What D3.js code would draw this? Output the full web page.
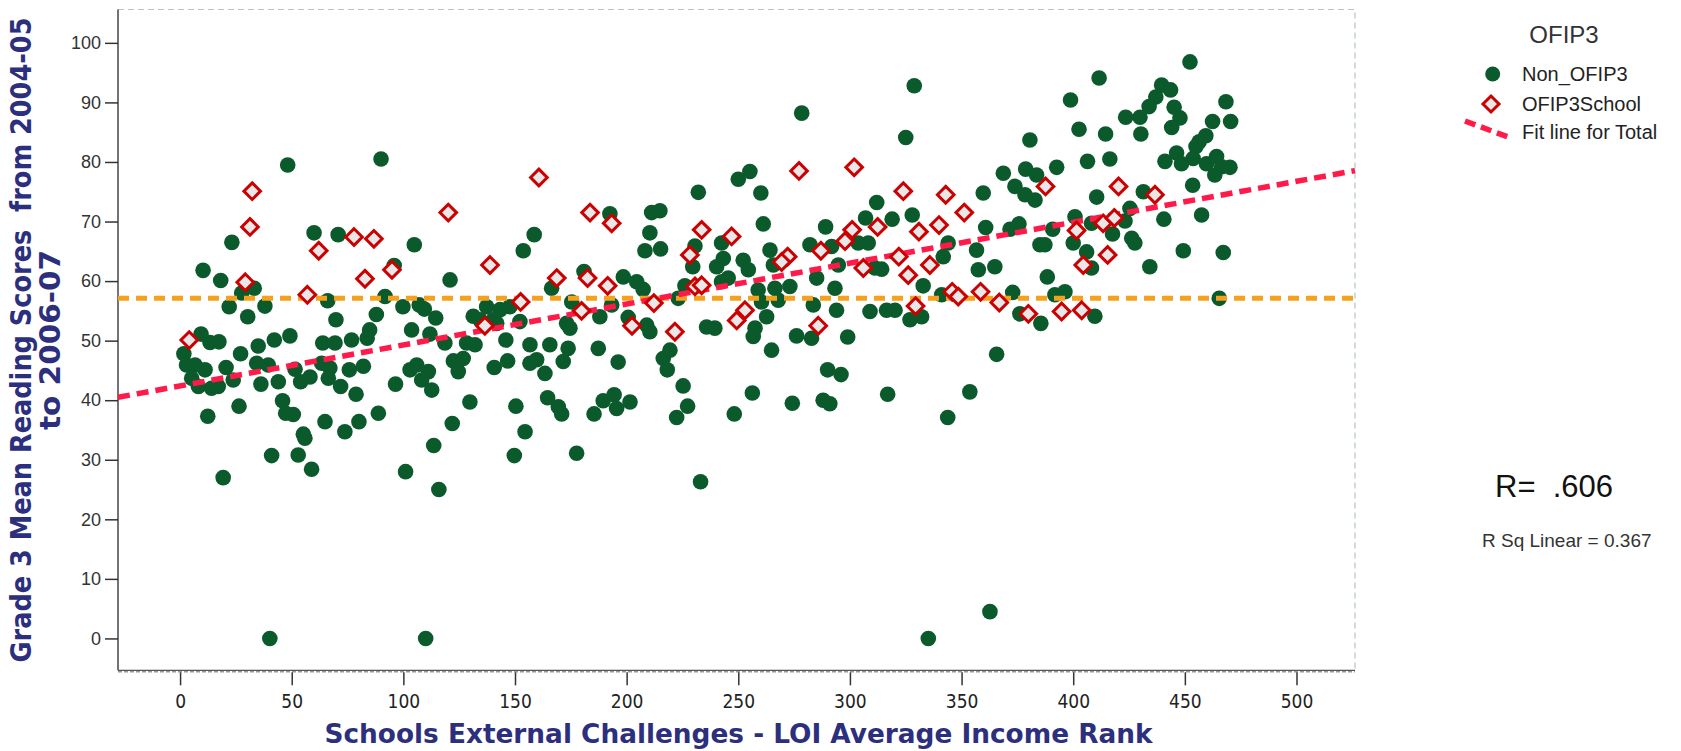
<!DOCTYPE html>
<html>
<head>
<meta charset="utf-8">
<script src="https://cdn.jsdelivr.net/npm/d3@7"></script>
<style>
  html, body { margin: 0; padding: 0; background: #ffffff; }
  svg { display: block; }
  text { white-space: pre; }
</style>
</head>
<body>
<svg id="chart" width="1681" height="751"></svg>
<script>
// Schools not in OFIP3: [income rank, grade 3 mean reading score]
const nonOfip = [
  [48.2,79.5],[90.0,80.5],[23.2,66.5],[60.0,68.1],[70.8,67.8],[104.9,66.1],[10.3,61.8],[18.2,60.1],[33.2,58.8],[27.6,58.0],
  [95.9,62.6],[66.1,56.7],[91.8,57.4],[22.0,55.7],[38.0,55.8],[30.3,54.0],[69.8,53.5],[87.9,54.4],[99.8,55.7],[107.1,56.0],
  [109.4,55.3],[114.5,53.8],[103.7,51.8],[111.9,51.1],[84.9,51.8],[83.8,50.4],[9.4,51.1],[13.4,49.7],[17.4,49.8],[35.0,49.1],
  [42.2,50.1],[49.2,50.8],[63.9,49.6],[69.4,49.6],[76.8,50.1],
  [1.7,47.8],[2.9,45.9],[6.7,45.9],[11.2,45.1],[5.2,43.7],[8.2,42.3],[14.1,42.0],[17.1,42.3],[20.6,45.5],[23.8,43.4],
  [27.1,47.8],[34.3,46.2],[39.5,45.9],[36.2,42.7],[44.0,43.1],[51.5,45.2],[54.0,43.1],[58.2,43.9],[63.4,46.2],[67.1,45.4],
  [66.4,43.7],[71.9,42.3],[75.8,45.1],[82.1,45.7],[78.8,41.0],[96.5,42.7],[103.0,45.1],[106.0,45.9],[111.2,44.8],[108.2,43.4],
  [112.7,41.7],[12.4,37.3],[26.4,39.0],[45.9,39.9],[47.3,37.8],[50.7,37.6],[64.9,36.4],[73.8,34.7],[80.1,36.4],[88.8,37.8],
  [55.2,34.3],[55.9,33.6],[41.0,30.7],[52.9,30.8],[58.9,28.4],[19.3,27.0],[101.0,28.0],[113.6,32.4],[115.9,25.0],[40.2,0],
  [110.0,0],
  [192.5,71.3],[232.1,74.9],[211.2,71.5],[214.9,71.8],[210.4,68.1],[158.6,67.8],[153.7,65.1],[208.2,65.1],[215.2,65.4],[230.6,65.9],
  [229.6,62.4],[120.9,60.2],[180.9,61.6],[198.5,60.7],[204.5,59.9],[207.4,58.6],[166.4,58.8],[226.1,59.2],[175.4,56.5],[188.0,54.0],
  [193.3,56.0],[223.1,57.1],[131.3,54.1],[137.3,55.7],[143.3,55.2],[147.7,55.7],[134.3,53.5],[140.3,53.5],[141.8,52.9],[152.2,53.2],
  [173.1,52.9],[174.6,52.1],[200.7,53.9],[209.0,52.6],[210.4,51.5],[118.6,49.6],[128.3,49.6],[132.1,49.3],[145.9,50.1],[156.7,49.3],
  [165.6,49.3],[173.8,48.7],[187.3,48.7],[219.4,48.4],[235.8,52.3],
  [196.2,46.4],[216.4,47.0],[218.2,45.1],[122.4,46.6],[126.8,47.0],[124.6,44.8],[140.7,45.5],[146.7,46.6],[156.7,46.2],[159.7,46.8],
  [163.4,44.5],[171.6,46.5],[129.8,39.7],[150.4,39.0],[164.6,40.4],[169.4,38.9],[170.9,37.7],[185.4,37.7],[189.5,39.9],[194.4,40.9],
  [195.5,38.6],[201.5,39.7],[225.3,42.4],[227.3,39.0],[222.4,37.1],[121.9,36.1],[154.5,34.7],[149.7,30.7],[177.6,31.1],[233.1,26.3],
  [328.8,92.8],[278.4,88.2],[325.0,84.1],[255.2,78.4],[250.0,77.1],[260.1,74.8],[312.0,73.2],[261.2,69.6],[289.1,69.1],[307.0,70.6],
  [318.9,70.4],[327.9,71.1],[242.5,66.4],[282.1,66.1],[291.8,65.8],[303.7,66.4],[308.2,66.4],[264.2,65.2],[243.3,63.8],[240.3,62.4],
  [252.2,63.5],[254.5,61.9],[265.7,62.7],[294.8,62.7],[311.2,62.2],[314.2,62.0],[344.0,66.4],[341.8,64.1],[332.8,59.2],[242.5,59.9],
  [245.5,60.5],[258.9,58.5],[266.4,58.8],[273.1,59.1],[285.1,60.5],[293.3,58.8],[341.1,57.7],[267.9,56.8],[260.4,56.5],[262.7,54.0],
  [283.6,56.0],[294.0,55.1],[309.0,54.9],[316.4,55.1],[320.2,55.1],[326.9,53.5],[332.1,54.0],[239.5,52.1],[257.5,52.1],[256.7,50.7],
  [276.1,50.8],[282.8,50.4],[299.0,50.6],[264.9,48.4],
  [290.0,45.1],[296.0,44.3],[256.3,41.2],[248.2,37.7],[274.2,39.5],[288.0,40.0],[291.0,39.4],[316.9,41.0],[343.8,37.1],[353.7,41.4],
  [335.1,0],
  [452.3,96.8],[411.6,94.1],[439.6,92.9],[443.6,92.1],[437.0,90.9],[434.0,89.3],[398.8,90.4],[468.4,90.1],[429.9,87.5],[423.5,87.5],
  [445.2,89.2],[447.8,87.4],[444.1,85.8],[430.3,84.7],[402.6,85.5],[414.5,84.7],[462.4,86.8],[470.5,86.8],[459.4,84.4],[456.4,83.4],
  [455.0,82.6],[380.6,83.7],[406.4,80.1],[416.4,80.5],[441.1,80.1],[446.3,81.5],[448.5,79.7],[453.7,80.6],[459.7,79.7],[464.2,80.9],
  [466.5,79.2],[470.2,79.1],[463.4,77.8],[392.6,79.1],[368.7,78.1],[378.7,78.8],[383.6,77.8],[373.9,75.9],[378.4,74.5],[382.9,73.6],
  [359.7,74.8],[431.4,75.0],[410.5,74.1],[453.5,76.1],[440.6,70.4],[457.5,71.1],[360.8,69.0],[375.7,69.6],[371.7,68.7],[390.8,68.7],
  [400.8,70.8],[408.2,69.7],[423.2,70.1],[425.4,72.2],[417.6,67.9],[426.2,67.2],[427.6,66.4],[400.0,66.4],[385.1,66.1],[387.3,66.1],
  [356.7,65.2],[406.0,64.9],[408.2,62.2],[449.3,65.1],[467.2,64.8],[357.5,61.9],[364.9,62.4],[434.3,62.4],[388.4,60.7],[372.9,58.1],
  [391.8,57.7],[396.3,58.2],[465.4,57.1],[376.1,54.5],[385.5,52.9],[409.7,54.1],
  [365.7,47.7],[362.7,4.5]
];

// OFIP3 schools: [income rank, grade 3 mean reading score]
const ofip = [
  [32.3,75.1],[31.3,69.1],[62.1,65.1],[77.9,67.4],[86.8,67.1],[29.2,59.8],[82.8,60.4],[94.9,61.9],[57.0,57.7],[4.1,50.1],
  [160.7,77.4],[120.1,71.5],[183.6,71.5],[193.3,69.7],[233.6,68.6],[228.3,64.4],[138.8,62.7],[168.7,60.5],[182.5,60.5],[191.5,59.2],
  [230.6,59.1],[233.6,59.3],[152.5,56.5],[179.8,55.0],[212.2,56.3],[136.5,52.5],[202.4,52.5],[221.6,51.5],
  [277.2,78.5],[301.9,79.1],[323.9,75.1],[342.9,74.5],[351.2,71.5],[247.0,67.5],[301.0,68.6],[312.4,69.1],[330.9,68.3],[339.9,69.4],
  [297.8,66.7],[287.0,65.1],[272.1,64.1],[269.4,63.2],[306.0,62.2],[321.9,64.1],[335.8,62.7],[326.1,61.0],[345.8,58.2],[348.5,57.4],
  [329.4,55.8],[249.3,53.4],[253.0,55.1],[285.8,52.5],
  [387.6,75.9],[420.3,75.9],[436.6,74.5],[401.5,68.5],[413.4,69.7],[418.4,70.6],[404.5,62.7],[415.4,64.4],[358.5,58.2],[366.9,56.4],
  [379.9,54.5],[394.8,54.9],[403.8,55.1]
];

const xTicks = [0, 50, 100, 150, 200, 250, 300, 350, 400, 450, 500];
const yTicks = [0, 10, 20, 30, 40, 50, 60, 70, 80, 90, 100];

// Reference lines: overall mean score and the linear fit for all schools
const meanScore = 57.1;
const fitIntercept = 42.4;
const fitSlope = 0.0687;
const rValue = ".606";
const rSquared = "0.367";

const legendTitle = "OFIP3";
const legendLabels = ["Non_OFIP3", "OFIP3School", "Fit line for Total"];

const xTitle = "Schools External Challenges - LOI Average Income Rank";
const yTitleLines = ["Grade 3 Mean Reading Scores  from 2004-05", "to 2006-07"];

// ---- layout ----
const plot = { left: 118, right: 1355, top: 9.5, bottom: 670.3 };
const x = d3.scaleLinear().domain([-27.8, 526.2]).range([plot.left, plot.right]);
const y = d3.scaleLinear().domain([-5.35, 105.6]).range([plot.bottom, plot.top]);

const GREEN = "#0b5a2c";
const RED = "#cc0000";
const FIT = "#ff1a4a";
const ORANGE = "#f6a11c";
const NAVY = "#2c2f7d";
const FONT = "'Liberation Sans', Arial, sans-serif";
const NARROW = "'Liberation Sans Narrow', 'DejaVu Sans Condensed', 'Liberation Sans', sans-serif";

const svg = d3.select("#chart");
svg.append("rect").attr("width", 1681).attr("height", 751).attr("fill", "#ffffff");

// frame: dashed top and right edges
svg.append("path")
  .attr("d", `M${plot.left},${plot.top}H${plot.right}V${plot.bottom}`)
  .attr("fill", "none").attr("stroke", "#b4c6c1").attr("stroke-width", 1.2)
  .attr("stroke-dasharray", "6,4");

// bottom axis line (solid with a dashed shadow)
svg.append("line")
  .attr("x1", plot.left).attr("x2", plot.right).attr("y1", plot.bottom + 1.5).attr("y2", plot.bottom + 1.5)
  .attr("stroke", "#9a9a9a").attr("stroke-width", 1.5).attr("stroke-dasharray", "4,2");
svg.append("line")
  .attr("x1", plot.left).attr("x2", plot.right).attr("y1", plot.bottom).attr("y2", plot.bottom)
  .attr("stroke", "#555").attr("stroke-width", 1.2);

// left axis line
svg.append("line")
  .attr("x1", plot.left).attr("x2", plot.left).attr("y1", plot.top).attr("y2", plot.bottom)
  .attr("stroke", "#444").attr("stroke-width", 1.5);

// y axis ticks & labels
const yAxis = d3.axisLeft(y).tickValues(yTicks).tickSize(13).tickPadding(4).tickFormat(d3.format("d"));
const gy = svg.append("g").attr("transform", `translate(${plot.left},0)`).call(yAxis);
gy.select(".domain").remove();
gy.selectAll(".tick line").attr("stroke", "#333").attr("stroke-width", 1.5);
gy.selectAll(".tick text").attr("font-family", FONT).attr("font-size", 18).attr("fill", "#333");

// x axis ticks & labels
const xAxis = d3.axisBottom(x).tickValues(xTicks).tickSize(13).tickPadding(9).tickFormat(d3.format("d"));
const gx = svg.append("g").attr("transform", `translate(0,${plot.bottom + 2})`).call(xAxis);
gx.select(".domain").remove();
gx.selectAll(".tick line").attr("stroke", "#333").attr("stroke-width", 1.5);
gx.selectAll(".tick text").attr("font-family", NARROW).attr("font-size", 19).attr("fill", "#222");

// axis titles
svg.append("text")
  .attr("x", (x(-27.8) + x(526.2)) / 2 + 2).attr("y", 743)
  .attr("text-anchor", "middle").attr("font-family", NARROW).attr("font-weight", "bold")
  .attr("font-size", 27).attr("fill", NAVY)
  .attr("textLength", 828).attr("lengthAdjust", "spacingAndGlyphs")
  .text(xTitle);

const yTitleX = [31, 60];
const yTitleLen = [645, 180];
yTitleLines.forEach((line, i) => {
  svg.append("text")
    .attr("transform", `translate(${yTitleX[i]},340) rotate(-90)`)
    .attr("text-anchor", "middle").attr("font-family", NARROW).attr("font-weight", "bold")
    .attr("font-size", 28).attr("fill", NAVY)
    .attr("textLength", yTitleLen[i]).attr("lengthAdjust", "spacingAndGlyphs")
    .text(line);
});

// plotted marks
const marks = svg.append("g");
const diamondPath = r => `M0,${-r}L${r},0L0,${r}L${-r},0Z`;

marks.selectAll("circle.non")
  .data(nonOfip).join("circle")
  .attr("class", "non")
  .attr("cx", d => x(d[0])).attr("cy", d => y(d[1])).attr("r", 7.8)
  .attr("fill", GREEN);

// mean line
marks.append("line")
  .attr("x1", plot.left).attr("x2", plot.right)
  .attr("y1", y(meanScore)).attr("y2", y(meanScore))
  .attr("stroke", ORANGE).attr("stroke-width", 5).attr("stroke-dasharray", "11,7");

// linear fit line
const xDom = x.domain();
marks.append("line")
  .attr("x1", x(xDom[0])).attr("y1", y(fitIntercept + fitSlope * xDom[0]))
  .attr("x2", x(xDom[1])).attr("y2", y(fitIntercept + fitSlope * xDom[1]))
  .attr("stroke", FIT).attr("stroke-width", 5.5).attr("stroke-dasharray", "12,7");

marks.selectAll("path.ofip")
  .data(ofip).join("path")
  .attr("class", "ofip")
  .attr("transform", d => `translate(${x(d[0])},${y(d[1])})`)
  .attr("d", diamondPath(8.3))
  .attr("fill", "#e8e8e8").attr("stroke", RED).attr("stroke-width", 3);

// legend
const lg = svg.append("g");
lg.append("text").attr("x", 1564).attr("y", 43).attr("text-anchor", "middle")
  .attr("font-family", FONT).attr("font-size", 24).attr("fill", "#333").text(legendTitle);
lg.append("circle").attr("cx", 1492.7).attr("cy", 74).attr("r", 7.5).attr("fill", GREEN);
lg.append("path").attr("transform", "translate(1491,104)").attr("d", diamondPath(8))
  .attr("fill", "#e8e8e8").attr("stroke", RED).attr("stroke-width", 3);
lg.append("line").attr("x1", 1465).attr("y1", 121).attr("x2", 1508).attr("y2", 137)
  .attr("stroke", FIT).attr("stroke-width", 5.5).attr("stroke-dasharray", "11,6");
[74, 104, 132].forEach((cy, i) => {
  lg.append("text").attr("x", 1522).attr("y", cy + 7)
    .attr("font-family", FONT).attr("font-size", 20).attr("fill", "#222").text(legendLabels[i]);
});

// correlation annotations
svg.append("text").attr("x", 1495).attr("y", 497)
  .attr("font-family", FONT).attr("font-size", 31).attr("fill", "#111")
  .text("R=  " + rValue);
svg.append("text").attr("x", 1482).attr("y", 547)
  .attr("font-family", FONT).attr("font-size", 19).attr("fill", "#333")
  .text("R Sq Linear = " + rSquared);
</script>
</body>
</html>
